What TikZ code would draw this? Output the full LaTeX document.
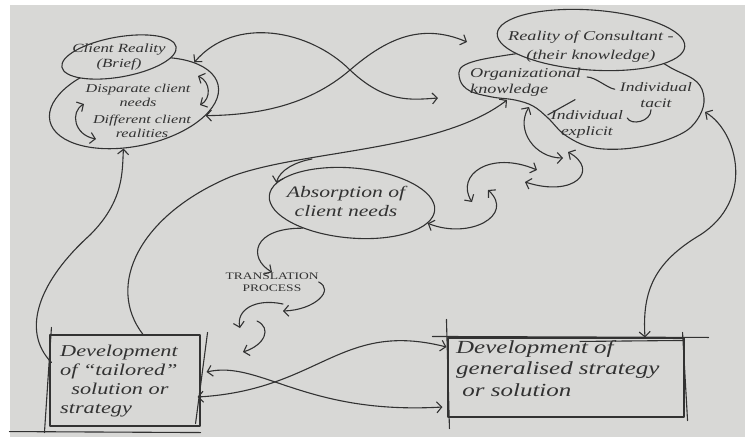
\documentclass[tikz,border=0pt]{standalone}
\usepackage{fontspec}
\newfontfamily\handfont{Liberation Serif}[FakeStretch=1.35]
\usetikzlibrary{shapes.geometric,arrows.meta}
\definecolor{paper}{RGB}{216,216,214}
\definecolor{pencil}{RGB}{50,50,50}
\tikzset{
  ink/.style={draw=pencil, line width=1.1pt},
  hand/.style={text=pencil, font=\handfont\itshape, align=center, inner sep=0pt},
  blob/.style={ellipse, ink, inner sep=0pt},
  oneway/.style={ink, -{Straight Barb[length=5pt,width=11pt]}},
  twoway/.style={ink, {Straight Barb[length=5pt,width=11pt]}-{Straight Barb[length=5pt,width=11pt]}},
}
\begin{document}
\begin{tikzpicture}[x=1pt, y=-1pt, line cap=round, line join=round]
\fill[paper] (0,0) rectangle (745,437);
\fill[white] (0,0) rectangle (745,5);
\fill[white] (0,0) rectangle (10,437);
\useasboundingbox (0,0) rectangle (745,437);

% client side
\node[blob, minimum width=172pt, minimum height=86pt, rotate=12] (client) at (134,103) {};
\node[blob, fill=paper, minimum width=116pt, minimum height=40pt, rotate=10] (brief) at (119,57) {};
\node[hand, font=\handfont\itshape\fontsize{12.5}{15.5}\selectfont] (brieftxt) at (brief) {Client Reality\\(Brief)};
\node[hand, font=\handfont\itshape\fontsize{12}{14}\selectfont] (needs) at (138,95) {Disparate client\\needs};
\node[hand, font=\handfont\itshape\fontsize{12}{14}\selectfont] (realities) at (142,126) {Different client\\realities};
\coordinate (cl1) at (84,104);
\coordinate (cl2) at (96,139);
\coordinate (cr1) at (198,76);
\coordinate (cr2) at (200,105);
\draw[twoway] (cl1) .. controls (70,112) and (74,135) .. (cl2);
\draw[twoway] (cr1) .. controls (211,82) and (211,99) .. (cr2);

% consultant side
\draw[ink] plot[smooth cycle, tension=0.6] coordinates {(463,66) (495,57) (560,50) (640,55) (675,70) (697,82) (704,98) (700,115) (686,131) (657,143) (622,149) (590,147) (565,135) (548,118) (533,106) (515,100) (492,97) (470,91) (460,80)};
\node[blob, fill=paper, minimum width=188pt, minimum height=60pt, rotate=-4] (reality) at (591,40) {};
\node[hand, font=\handfont\itshape\fontsize{13.5}{19}\selectfont] (realitytxt) at (591,47) {Reality of Consultant -\\(their knowledge)};
\node[hand, font=\handfont\itshape\fontsize{13.5}{16}\selectfont, align=left, anchor=north west] (orgk) at (470,68) {Organizational\\knowledge};
\node[hand, font=\handfont\itshape\fontsize{13}{16}\selectfont] (tacit) at (656,95) {Individual\\tacit};
\node[hand, font=\handfont\itshape\fontsize{13}{16}\selectfont] (explicit) at (587,124) {Individual\\explicit};
\draw[ink] ([shift={(6,9)}]orgk.north east) .. controls ([shift={(14,9)}]orgk.north east) and ([shift={(-12,6)}]tacit.north west) .. ([shift={(-5,7)}]tacit.north west);
\draw[ink] ([shift={(-6,3)}]orgk.south east) -- ([shift={(-3,5)}]explicit.north west);
\draw[ink] ([shift={(-5,2)}]tacit.south) .. controls ([shift={(-5,14)}]tacit.south) and ([shift={(-25,18)}]tacit.south) .. ([shift={(4,-6)}]explicit.east);
\coordinate (kin) at (507,100);
\coordinate (kdown) at (529,107);
\coordinate (kright) at (705,112);

% absorption and translation
\node[blob, minimum width=166pt, minimum height=70pt, rotate=-5] (absorb) at (352,203) {};
\node[hand, font=\handfont\itshape\fontsize{16}{19}\selectfont] (absorbtxt) at (346,201) {Absorption of\\client needs};
\node[hand, font=\handfont\fontsize{10}{12.5}\selectfont] (transl) at (272,282) {TRANSLATION\\PROCESS};

% boxes
\node[ink, minimum width=150pt, minimum height=91pt] (tbox) at (125,380.5) {};
\node[hand, font=\handfont\itshape\fontsize{16.5}{19}\selectfont, align=left, anchor=west] (tboxtxt) at (60,381) {Development\\of “tailored”\\\ \ solution or\\strategy};
\draw[ink] ([shift={(2,-7)}]tbox.north west) -- ([shift={(-5,6)}]tbox.south west);
\draw[ink] ([shift={(7,-2)}]tbox.north east) -- ([shift={(-5,-3)}]tbox.south east);
\draw[ink] ([shift={(-40,5)}]tbox.south west) -- ([shift={(0,6)}]tbox.south east);
\node[ink, minimum width=236pt, minimum height=79pt] (gbox) at (566,377.5) {};
\node[hand, font=\handfont\itshape\fontsize{18.5}{21.5}\selectfont, align=left, anchor=north west] (gboxtxt) at (456,340) {Development of\\generalised strategy\\\ or solution};
\draw[ink] ([shift={(-15,-1)}]gbox.north west) -- ([shift={(24,0)}]gbox.north east);
\draw[ink] ([shift={(14,4)}]gbox.north) -- ([shift={(-2,3)}]gbox.north east);
\draw[ink] ([shift={(-1,-18)}]gbox.north west) -- ([shift={(2,11)}]gbox.south west);
\draw[ink] ([shift={(-2,-5)}]gbox.north east) -- ([shift={(3,3)}]gbox.south east);

% links between the two realities
\coordinate (k1) at (438,98);
\coordinate (k2) at (467,42);
\draw[twoway] (client.22) .. controls (235,15) and (310,30) .. (350,70) .. controls (385,103) and (410,100) .. (k1);
\draw[twoway] (client.-22) .. controls (270,115) and (315,100) .. (350,70) .. controls (385,40) and (420,22) .. (k2);

% long curves
\coordinate (brn) at (312,159);
\draw[oneway] ([xshift=18pt]tbox.north) .. controls (105,285) and (140,215) .. (230,177) .. controls (300,150) and (440,152) .. (kin);
\draw[oneway] (brn) .. controls (295,162) and (280,170) .. (absorb.170);
\draw[oneway] ([shift={(2,-18)}]tbox.west) .. controls (20,330) and (40,280) .. (90,235) .. controls (125,200) and (122,170) .. (client.-115);
\draw[twoway] (kright) .. controls (738,132) and (755,200) .. (700,235) .. controls (655,262) and (642,290) .. ([xshift=79pt]gbox.north);

% absorption to translation
\coordinate (t1) at (283,311);
\coordinate (t2s) at (283,304);
\coordinate (t2) at (240,328);
\coordinate (t3s) at (257,321);
\coordinate (t3) at (243,352);
\draw[oneway] (absorb.212) .. controls (252,228) and (248,258) .. (transl.north);
\draw[oneway] (transl.east) .. controls (335,290) and (315,310) .. (t1);
\draw[oneway] (t2s) .. controls (255,298) and (236,310) .. (t2);
\draw[oneway] (t3s) .. controls (272,328) and (265,345) .. (t3);

% chain between absorption and consultant
\coordinate (za) at (488,190);
\coordinate (zb1) at (472,202);
\coordinate (zb2) at (537,170);
\coordinate (zc1) at (525,182);
\coordinate (zc2) at (568,152);
\coordinate (zd) at (563,158);
\draw[twoway] (absorb.-10) .. controls (470,240) and (515,215) .. (za);
\draw[twoway] (zb1) .. controls (455,175) and (490,150) .. (zb2);
\draw[twoway] (zc1) .. controls (575,198) and (600,170) .. (zc2);
\draw[twoway] (kdown) .. controls (515,130) and (535,158) .. (zd);

% between the boxes
\draw[twoway] ([shift={(6,-8.5)}]tbox.east) .. controls (260,360) and (305,415) .. ([shift={(-5,29.5)}]gbox.west);
\draw[twoway] ([shift={(-3,16.5)}]tbox.east) .. controls (320,390) and (340,320) .. ([shift={(-1,-30.5)}]gbox.west);
\end{tikzpicture}
\end{document}
